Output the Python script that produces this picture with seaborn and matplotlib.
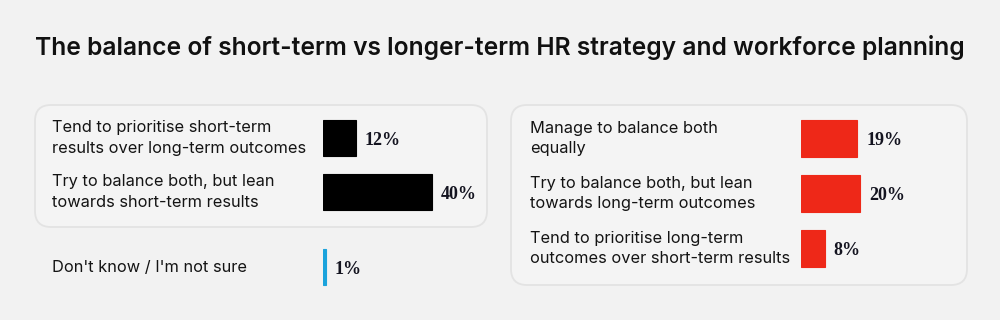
import matplotlib
matplotlib.use("Agg")
import matplotlib.pyplot as plt
import seaborn as sns
import pandas as pd
from matplotlib.patches import FancyBboxPatch
from matplotlib.transforms import IdentityTransform

# ---- data ----
title = "The balance of short-term vs longer-term HR strategy and workforce planning"
short_labels = ["Tend to prioritise short-term\nresults over long-term outcomes",
                "Try to balance both, but lean\ntowards short-term results"]
short_values = [12, 40]
unsure_labels = ["Don't know / I'm not sure"]
unsure_values = [1]
long_labels = ["Manage to balance both\nequally",
               "Try to balance both, but lean\ntowards long-term outcomes",
               "Tend to prioritise long-term\noutcomes over short-term results"]
long_values = [19, 20, 8]

BG = "#f2f2f2"
W, H = 1000, 320

sns.set_theme(style="white")
plt.rcParams["font.family"] = ["Inter", "DejaVu Sans"]

fig = plt.figure(figsize=(W / 100, H / 100), dpi=100, facecolor=BG)


def px_axes(x, y, w, h):
    ax = fig.add_axes([x / W, 1 - (y + h) / H, w / W, h / H])
    ax.set_facecolor("none")
    return ax


def rounded_box(x, y, w, h):
    box = FancyBboxPatch((x, H - (y + h)), w, h,
                         boxstyle="round,pad=0,rounding_size=16",
                         transform=IdentityTransform(), facecolor="#f4f4f4",
                         edgecolor="#e3e3e3", linewidth=1.3, zorder=-5)
    fig.patches.append(box)


rounded_box(35, 105, 452, 122)
rounded_box(511, 105, 456, 180)

fig.text(35 / W, 1 - 54.5 / H, title, fontsize=17.7, fontweight="semibold",
         color="#111111", ha="left", va="baseline")


def draw_panel(ax, labels, values, color, scale, label_x, bar_x, height):
    df = pd.DataFrame({"label": labels, "value": values})
    sns.barplot(data=df, x="value", y="label", ax=ax, color=color,
                width=height, edgecolor=color, linewidth=0.8, saturation=1)
    w_px = ax.get_position().width * W
    ax.set_xlim(0, w_px / scale)
    ax.set_ylim(len(labels) - 0.5, -0.5)
    ax.set_axis_off()
    for i, (lab, v) in enumerate(zip(labels, values)):
        ax.annotate(f"{v}%", xy=(v, i), xytext=(6.2, -1.5), textcoords="offset points",
                    ha="left", va="center", fontsize=13, fontweight="bold",
                    family="Liberation Serif", color="#141420")
        ax.annotate(lab, xy=(0, i), xycoords=("axes fraction", "data"),
                    xytext=(-(bar_x - label_x) * 0.72, 0), textcoords="offset points",
                    ha="left", va="center", fontsize=11.8, color="#141414",
                    linespacing=1.42)


ax1 = px_axes(323, 111, 150, 108)
draw_panel(ax1, short_labels, short_values, "#000000", 2.735, 52, 323, 0.676)

ax2 = px_axes(323, 240, 150, 54)
draw_panel(ax2, unsure_labels, unsure_values, "#1ba3dc", 2.735, 52, 323, 0.667)

ax3 = px_axes(801, 111, 150, 165)
draw_panel(ax3, long_labels, long_values, "#ee2818", 2.97, 530, 801, 0.665)

fig.savefig("out.png", dpi=100, facecolor=BG)
